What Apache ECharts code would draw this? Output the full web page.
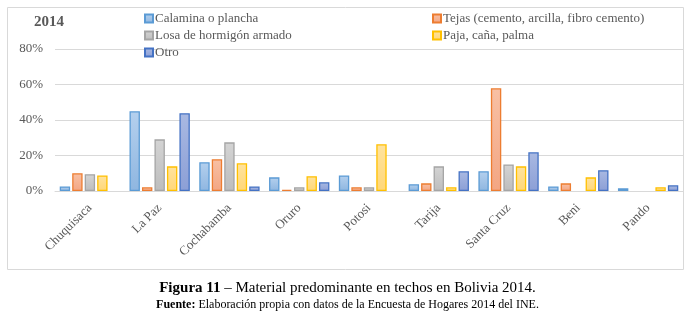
<!DOCTYPE html>
<html>
<head>
<meta charset="utf-8">
<script src="https://cdn.jsdelivr.net/npm/echarts@6/dist/echarts.min.js"></script>
<style>
  html, body { margin: 0; padding: 0; background: #fff; }
  #chart { width: 695px; height: 319px; }
</style>
</head>
<body>
<div id="chart"></div>
<script>
// departamentos
var categorias = ['Chuquisaca', 'La Paz', 'Cochabamba', 'Oruro', 'Potosi', 'Tarija', 'Santa Cruz', 'Beni', 'Pando']
// valores en %
var calamina = [2.6, 44.9, 16.2, 7.7, 8.8, 3.8, 11.1, 2.6, 1.5]
var tejas = [10.0, 2.1, 17.9, 0.6, 2.1, 4.3, 57.9, 4.3, 0]
var losa = [9.4, 29.1, 27.4, 2.1, 2.1, 13.9, 15.0, 0, 0]
var paja = [8.8, 13.9, 15.6, 8.3, 26.3, 2.1, 13.9, 7.7, 2.1]
var otro = [0, 43.8, 2.6, 4.9, 0, 11.1, 21.8, 11.7, 3.2]
var ticks = [0, 20, 40, 60, 80]

var fuente = 'Liberation Serif'
var gris = '#595959'

function relleno(arriba, abajo) {
  return new echarts.graphic.LinearGradient(0, 0, 0, 1, [
    { offset: 0, color: arriba },
    { offset: 1, color: abajo }
  ])
}

function serie(nombre, datos, arriba, abajo, borde) {
  return {
    type: 'bar',
    name: nombre,
    // los ceros no se dibujan (como en Excel)
    data: datos.map(function (v) { return v === 0 ? '-' : v }),
    barWidth: 10.4,
    barGap: '20%',
    itemStyle: {
      color: relleno(arriba, abajo),
      borderColor: borde,
      borderWidth: 1.3
    }
  }
}

var chart = echarts.init(document.getElementById('chart'), null, { renderer: 'canvas' })

var option = {
  animation: false,
  textStyle: { fontFamily: fuente },
  title: [
    {
      text: '2014',
      left: 29, top: 10,
      textStyle: { fontFamily: fuente, fontSize: 15, fontWeight: 'bold', color: gris }
    },
    {
      text: '{b|Figura 11} – Material predominante en techos en Bolivia 2014.',
      left: 'center', top: 276,
      textStyle: {
        fontFamily: fuente, fontSize: 15, fontWeight: 'normal', color: '#000',
        rich: { b: { fontFamily: fuente, fontSize: 15, fontWeight: 'bold', color: '#000' } }
      }
    },
    {
      text: '{b|Fuente:} Elaboración propia con datos de la Encuesta de Hogares 2014 del INE.',
      left: 'center', top: 294,
      textStyle: {
        fontFamily: fuente, fontSize: 12, fontWeight: 'normal', color: '#000',
        rich: { b: { fontFamily: fuente, fontSize: 12, fontWeight: 'bold', color: '#000' } }
      }
    }
  ],
  // dos columnas de leyenda
  legend: [
    {
      orient: 'vertical',
      left: 139, top: 7,
      itemWidth: 8, itemHeight: 8, itemGap: 4,
      icon: 'rect',
      textStyle: { fontFamily: fuente, fontSize: 13, color: gris, padding: [0, 0, 0, -3] },
      data: ['Calamina o plancha', 'Losa de hormigón armado', 'Otro']
    },
    {
      orient: 'vertical',
      left: 427, top: 7,
      itemWidth: 8, itemHeight: 8, itemGap: 4,
      icon: 'rect',
      textStyle: { fontFamily: fuente, fontSize: 13, color: gris, padding: [0, 0, 0, -3] },
      data: ['Tejas (cemento, arcilla, fibro cemento)', 'Paja, caña, palma']
    }
  ],
  graphic: [
    {
      type: 'rect',
      shape: { x: 7.5, y: 7.5, width: 676, height: 262 },
      style: { fill: 'none', stroke: '#d9d9d9', lineWidth: 1 },
      silent: true
    }
  ],
  grid: { left: 55, right: 12, top: 49, bottom: 128 },
  xAxis: {
    type: 'category',
    data: categorias,
    axisLine: { lineStyle: { color: '#d9d9d9' } },
    axisTick: { show: false },
    axisLabel: {
      rotate: 45,
      margin: 15,
      interval: 0,
      fontFamily: fuente,
      fontSize: 13,
      color: gris
    }
  },
  yAxis: {
    type: 'value',
    min: ticks[0],
    max: ticks[ticks.length - 1],
    interval: 20,
    axisLine: { show: false },
    axisTick: { show: false },
    splitLine: { lineStyle: { color: '#d9d9d9' } },
    axisLabel: {
      formatter: '{value}%',
      margin: 12,
      fontFamily: fuente,
      fontSize: 13,
      color: gris
    }
  },
  series: [
    serie('Calamina o plancha', calamina, '#b4d0ee', '#8fb6e0', '#5b9bd5'),
    serie('Tejas (cemento, arcilla, fibro cemento)', tejas, '#f8c0a4', '#f3a683', '#ed7d31'),
    serie('Losa de hormigón armado', losa, '#d4d4d4', '#bdbdbd', '#a5a5a5'),
    serie('Paja, caña, palma', paja, '#ffe39e', '#ffd778', '#ffc000'),
    serie('Otro', otro, '#a9b9e2', '#8c9fd6', '#4472c4')
  ]
}

chart.setOption(option)
</script>
</body>
</html>
